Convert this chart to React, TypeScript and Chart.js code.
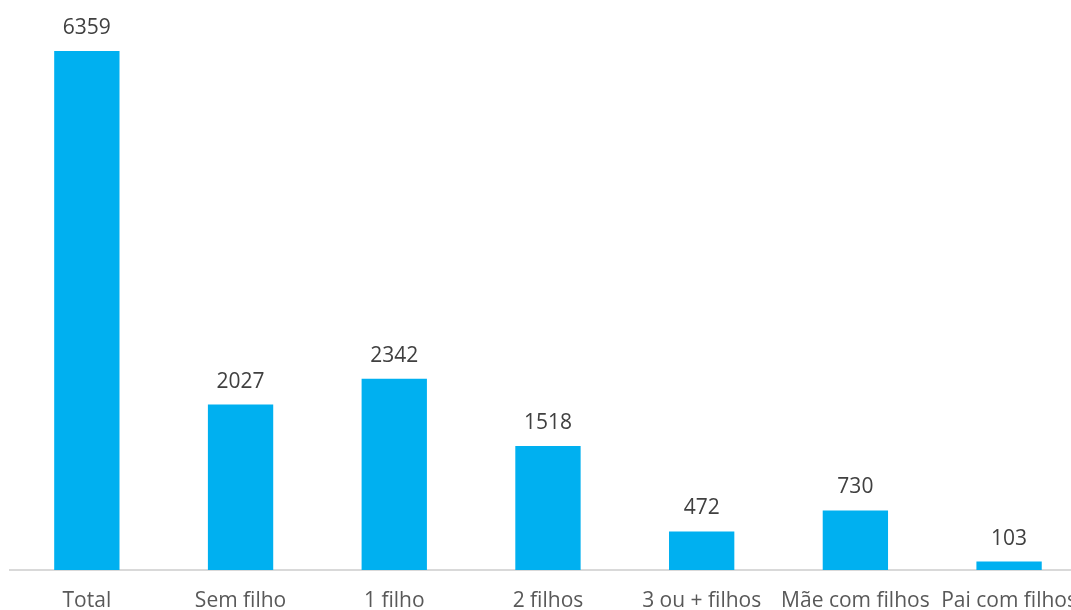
import React, { useEffect, useRef } from "react";
import { Chart, registerables } from "chart.js";

Chart.register(...registerables);

const categories = ["Total", "Sem filho", "1 filho", "2 filhos", "3 ou + filhos", "Mãe com filhos", "Pai com filhos"];
const values = [6359, 2027, 2342, 1518, 472, 730, 103];

const FONT = "'Open Sans', sans-serif";

const labelPlugin = {
  id: "barLabels",
  afterDatasetsDraw(chart: any) {
    const ctx = chart.ctx;
    const meta = chart.getDatasetMeta(0);
    ctx.save();
    ctx.font = `21px ${FONT}`;
    ctx.fillStyle = "#404040";
    ctx.textAlign = "center";
    ctx.textBaseline = "alphabetic";
    meta.data.forEach((bar: any, i: number) => {
      ctx.fillText(String(values[i]), bar.x, bar.y - 17);
    });
    ctx.restore();
  },
};

export default function App() {
  const ref = useRef<HTMLCanvasElement>(null);
  useEffect(() => {
    const chart = new Chart(ref.current!, {
      type: "bar",
      data: {
        labels: categories,
        datasets: [
          {
            data: values,
            backgroundColor: "#00B0F0",
            categoryPercentage: 1,
            barPercentage: 0.425,
          },
        ],
      },
      options: {
        animation: false,
        responsive: false,
        maintainAspectRatio: false,
        layout: { padding: { left: 10, right: 0, top: 0, bottom: 0 } },
        plugins: { legend: { display: false }, tooltip: { enabled: false } },
        scales: {
          y: { display: false, min: 0, max: 6983 },
          x: {
            grid: { display: false, drawTicks: false },
            border: { display: true, color: "#D9D9D9", width: 2 },
            afterFit(scale: any) {
              scale.height = 40;
            },
            ticks: {
              color: "#595959",
              font: { family: FONT, size: 21 },
              padding: 18,
              maxRotation: 0,
              autoSkip: false,
            },
          },
        },
      },
      plugins: [labelPlugin],
    });
    return () => chart.destroy();
  }, []);
  return (
    <div style={{ position: "fixed", left: 0, top: 0, width: 1071, height: 610, overflow: "hidden", background: "#fff" }}>
      <canvas ref={ref} width={1095} height={610} style={{ display: "block" }} />
    </div>
  );
}
